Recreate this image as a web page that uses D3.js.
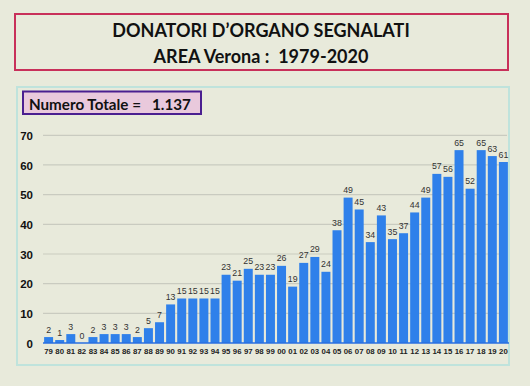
<!DOCTYPE html>
<html><head><meta charset="utf-8">
<script src="https://cdn.jsdelivr.net/npm/d3@7"></script>
<style>body{margin:0;background:#e8eadb;}svg{display:block;}</style>
</head><body>
<script>
const years = ["79","80","81","82","83","84","85","86","87","88","89","90","91","92","93","94","95","96","97","98","99","00","01","02","03","04","05","06","07","08","09","10","11","12","13","14","15","16","17","18","19","20"];
const donors = [2,1,3,0,2,3,3,3,2,5,7,13,15,15,15,15,23,21,25,23,23,26,19,27,29,24,38,49,45,34,43,35,37,44,49,57,56,65,52,65,63,61];
const yTicks = [0,10,20,30,40,50,60,70];
const titleLines = ["DONATORI D\u2019ORGANO SEGNALATI","AREA Verona :  1979-2020"];
const totalLabel = "Numero Totale =   1.137";

const W=530,H=386;
const svg=d3.select("body").append("svg").attr("width",W).attr("height",H);
svg.append("rect").attr("width",W).attr("height",H).attr("fill","#e8eadb");

// title box
svg.append("rect").attr("x",15).attr("y",14).attr("width",493).attr("height",56)
  .attr("fill","#e8eadb").attr("stroke","#c8305a").attr("stroke-width",2);
svg.selectAll("text.title").data(titleLines).join("text").attr("class","title")
  .attr("x",261).attr("y",(d,i)=>36.5+i*26).attr("text-anchor","middle")
  .attr("font-family","Lato").attr("font-weight","bold").attr("font-size",18).attr("fill","#111")
  .style("white-space","pre").text(d=>d);

// chart frame
svg.append("rect").attr("x",17).attr("y",87).attr("width",492).attr("height",278)
  .attr("fill","#e8eadb").attr("stroke","#bfe3dc").attr("stroke-width",2);

// total box
svg.append("rect").attr("x",23).attr("y",91.5).attr("width",178).attr("height",22.5)
  .attr("fill","#e9c9dc").attr("stroke","#4a1f90").attr("stroke-width",2);
svg.append("text").attr("x",29).attr("y",109.5).attr("font-family","Lato").attr("font-weight","bold")
  .attr("font-size",15.2).attr("fill","#111").style("white-space","pre").text(totalLabel);

const x=d3.scaleBand().domain(years).range([43,509]).paddingInner(0.19).paddingOuter(0.1);
const y=d3.scaleLinear().domain([0,70]).range([343,135.3]);

// gridlines
svg.append("g").selectAll("line").data(yTicks.filter(t=>t>0)).join("line")
  .attr("x1",43).attr("x2",507).attr("y1",d=>y(d)).attr("y2",d=>y(d))
  .attr("stroke","#c9cbc0").attr("stroke-width",1.2);

// y axis
const ya=svg.append("g").attr("transform","translate(33,0)")
  .call(d3.axisLeft(y).tickValues(yTicks).tickSize(0).tickPadding(0));
ya.select(".domain").remove();
ya.selectAll("text").attr("font-family","Liberation Sans").attr("font-weight","bold")
  .attr("font-size",11.5).attr("fill","#111").attr("dy","0.36em");

// bars
svg.append("g").selectAll("rect").data(donors).join("rect")
  .attr("x",(d,i)=>x(years[i])).attr("width",x.bandwidth())
  .attr("y",d=>y(d)).attr("height",d=>y(0)-y(d)).attr("fill","#2f80ea");

// baseline
svg.append("line").attr("x1",43).attr("x2",509).attr("y1",y(0)).attr("y2",y(0))
  .attr("stroke","#2a6fe0").attr("stroke-width",1.5);

// value labels
svg.append("g").selectAll("text").data(donors).join("text")
  .attr("x",(d,i)=>x(years[i])+x.bandwidth()/2).attr("y",d=>y(d)-4.5)
  .attr("text-anchor","middle").attr("font-family","Liberation Sans").attr("font-size",8.8)
  .attr("fill","#333").text(d=>d);

// x axis
const xa=svg.append("g").attr("transform","translate(0,348)")
  .call(d3.axisBottom(x).tickSize(0).tickPadding(0));
xa.select(".domain").remove();
xa.selectAll("text").attr("font-family","Liberation Sans").attr("font-weight","bold")
  .attr("font-size",7.8).attr("fill","#222").attr("dy","0.71em");
</script>
</body></html>
